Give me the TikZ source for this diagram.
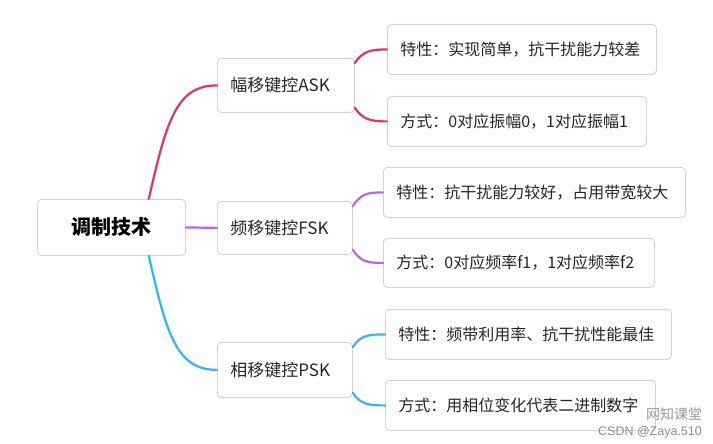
\documentclass[tikz,border=0pt]{standalone}
\usepackage{fontspec}
\setmainfont{Noto Sans CJK SC}
\newfontfamily\wmfont{Liberation Sans}
\definecolor{cred}{HTML}{E0336A}
\definecolor{cpurple}{HTML}{C060EE}
\definecolor{cblue}{HTML}{2EB8F0}
\definecolor{bord}{HTML}{D2D2D2}
\begin{document}
\begin{tikzpicture}[x=1pt,y=-1pt,
  box/.style={draw=bord,line width=0.8pt,fill=white,rounded corners=4pt,anchor=north west,inner xsep=13pt,inner ysep=0pt,align=left,font=\fontsize{16}{18}\selectfont,text=black!85},
  pbox/.style={box,font=\fontsize{17}{19}\selectfont},
  link/.style={line width=2.2pt,line cap=round}]
\useasboundingbox (0,0) rectangle (713,444);
\fill[white] (0,0) rectangle (713,444);
% nodes
\node[box,minimum width=148pt,minimum height=56pt,align=center,inner xsep=0pt,font=\fontsize{20}{22}\selectfont\bfseries,text=black] (root) at (37,199) {调制技术};
\node[pbox,minimum width=137pt,minimum height=54pt,text width=111pt] (ask) at (217,58) {幅移键控ASK};
\node[pbox,minimum width=135pt,minimum height=53pt,text width=109pt] (fsk) at (217,201) {频移键控FSK};
\node[pbox,minimum width=135pt,minimum height=55pt,text width=109pt] (psk) at (217,342) {相移键控PSK};
\node[box,minimum width=269pt,minimum height=50pt,text width=243pt] (a1) at (387,24) {特性：实现简单，抗干扰能力较差};
\node[box,minimum width=259pt,minimum height=50pt,text width=233pt] (a2) at (387,96) {方式：0对应振幅0，1对应振幅1};
\node[box,minimum width=302pt,minimum height=50pt,text width=276pt] (f1) at (383,167) {特性：抗干扰能力较好，占用带宽较大};
\node[box,minimum width=271pt,minimum height=49pt,text width=245pt] (f2) at (383,238) {方式：0对应频率f1，1对应频率f2};
\node[box,minimum width=286pt,minimum height=50pt,text width=260pt] (p1) at (385,309) {特性：频带利用率、抗干扰性能最佳};
\node[box,minimum width=270pt,minimum height=50pt,text width=244pt] (p2) at (385,380) {方式：用相位变化代表二进制数字};
% root links
\draw[link,cred] ([xshift=-37pt]root.north east) .. controls +(18,-80) and +(-40,0) .. (ask.west);
\draw[link,cpurple] (root.east) -- (fsk.west);
\draw[link,cblue] ([xshift=-37pt]root.south east) .. controls +(18,80) and +(-40,0) .. (psk.west);
% child links
\draw[link,cred] ([yshift=-5pt]ask.north east) .. controls +(8,-12) and +(-16,0) .. (a1.west);
\draw[link,cred] ([yshift=5pt]ask.south east) .. controls +(8,12) and +(-16,0) .. (a2.west);
\draw[link,cpurple] ([yshift=-5pt]fsk.north east) .. controls +(8,-12) and +(-16,0) .. (f1.west);
\draw[link,cpurple] ([yshift=5pt]fsk.south east) .. controls +(8,12) and +(-16,0) .. (f2.west);
\draw[link,cblue] ([yshift=-5pt]psk.north east) .. controls +(8,-12) and +(-16,0) .. (p1.west);
\draw[link,cblue] ([yshift=5pt]psk.south east) .. controls +(8,12) and +(-16,0) .. (p2.west);
% watermark
\node[text=black!40,font=\fontsize{14}{15}\selectfont,anchor=center,inner sep=0pt] (wm1) at (674,414) {网知课堂};
\node[text=black!45,font=\wmfont\fontsize{12.5}{13}\selectfont,anchor=center,inner sep=0pt] (wm2) at (650,432) {CSDN @Zaya.510};
\end{tikzpicture}
\end{document}
